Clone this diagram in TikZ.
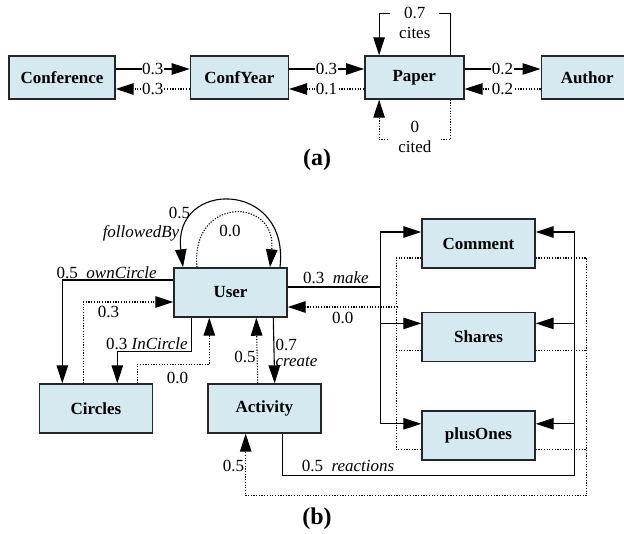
\documentclass[tikz,border=0pt]{standalone}
\usepackage{fontspec}
\setmainfont{Liberation Serif}
\usepackage{tikz}
\usetikzlibrary{arrows.meta,positioning,calc}
\definecolor{boxblue}{RGB}{212,234,240}
\tikzstyle{entity} = [rectangle, draw=black!85, line width=1.4pt, fill=boxblue, font=\fontsize{17}{20}\selectfont\bfseries, inner sep=0pt]
\tikzset{edge/.style = {
    draw, line width=1.1pt,
    -{Triangle[length=18pt, width=11.5pt]},
  },
  backedge/.style = {edge, dash pattern=on 1.2pt off 1.5pt},
  dotline/.style = {draw, line width=1.1pt, dash pattern=on 1.2pt off 1.5pt}
}

\begin{document}
\begin{tikzpicture}[x=1pt, y=-1pt]
  \useasboundingbox (0,0) rectangle (624,533);
  % vertices
  \tikzstyle{lbl} = [inner sep=1pt, font=\fontsize{17}{16}\selectfont]
  \tikzstyle{onlbl} = [lbl, fill=white, inner xsep=0.5pt]
  \tikzstyle{gplus} = [entity, minimum width=113pt, minimum height=49pt]
  \tikzstyle{sublabel} = [font=\fontsize{24}{28}\selectfont\bfseries]

  % (a) bibliographic graph
  \node[entity, minimum width=106pt, minimum height=43pt] (conf) at (62,77.5) {Conference};
  \node[entity, minimum width=98pt, minimum height=43pt, right=74pt of conf] (confyear) {ConfYear};
  \node[entity, minimum width=99pt, minimum height=43pt, right=75pt of confyear] (paper) {Paper};
  \node[entity, minimum width=92pt, minimum height=43pt, right=76pt of paper] (author) {Author};
  \node[sublabel] (capa) at (317,160) {(a)};

  \draw[edge] ($(conf.east)+(0,-8.5)$) -- node[onlbl]{0.3} ($(confyear.west)+(0,-8.5)$);
  \draw[backedge] ($(confyear.west)+(0,11.5)$) -- node[onlbl]{0.3} ($(conf.east)+(0,11.5)$);
  \draw[edge] ($(confyear.east)+(0,-8.5)$) -- node[onlbl]{0.3} ($(paper.west)+(0,-8.5)$);
  \draw[backedge] ($(paper.west)+(0,11.5)$) -- node[onlbl]{0.1} ($(confyear.east)+(0,11.5)$);
  \draw[edge] ($(paper.east)+(0,-8.5)$) -- node[onlbl]{0.2} ($(author.west)+(0,-8.5)$);
  \draw[backedge] ($(author.west)+(0,11.5)$) -- node[onlbl]{0.2} ($(paper.east)+(0,11.5)$);

  \draw[edge] ($(paper.north east)+(-14,0)$) |- ($(paper.north)+(0,-42)$) -| ($(paper.north west)+(15,0)$);
  \node[onlbl, minimum width=49pt] (citesw) at ($(paper.north)+(0.5,-42)$) {0.7};
  \node[lbl] (citesn) at ($(paper.north)+(0.5,-22)$) {cites};
  \draw[backedge] ($(paper.south east)+(-14,0)$) |- ($(paper.south)+(0,40)$) -| ($(paper.south west)+(15,0)$);
  \node[lbl] (citedw) at ($(paper.south)+(0.5,27)$) {0};
  \node[onlbl, inner ysep=3pt, minimum width=52pt] (citedn) at ($(paper.south)+(0.5,47)$) {cited};

  % (b) social graph
  \node[gplus] (user) at (230.5,292.5) {User};
  \node[gplus] (circles) at (96,408.5) {Circles};
  \node[gplus, right=54pt of circles] (activity) {Activity};
  \node[gplus] (comment) at (478.5,243.5) {Comment};
  \node[gplus, below=43pt of comment] (shares) {Shares};
  \node[gplus, below=48pt of shares] (plusones) {plusOnes};
  \node[sublabel] (capb) at (317,519) {(b)};

  % followedBy loop
  \draw[edge] ($(user.north)+(49.5,0)$) .. controls +(10,-88) and +(-11,-88) .. ($(user.north)+(-47.5,0)$);
  \draw[backedge] ($(user.north)+(-33.5,0)$) .. controls +(-7,-71) and +(7,-71) .. ($(user.north)+(39.5,0)$);
  \node[lbl] (fbw) at (179.5,213) {0.5};
  \node[lbl] (fbn) at (141,233) {\textit{followedBy}};
  \node[lbl] (fbback) at (230,231) {0.0};

  % circles
  \draw[edge] ($(user.west)+(0,-12.5)$) -| node[lbl, pos=0.3, above]{0.5\ \ \textit{ownCircle}} ($(circles.north west)+(23.5,0)$);
  \draw[backedge] ($(circles.north west)+(44.5,0)$) |- node[lbl, pos=0.64, below=3pt]{0.3} ($(user.west)+(0,9.5)$);
  \draw[edge] ($(user.south west)+(18,0)$) -- ++(0,34) -| node[lbl, pos=0.3, above]{0.3 \textit{InCircle}} ($(circles.north west)+(78.5,0)$);
  \draw[backedge] ($(circles.north west)+(98.5,0)$) -- ++(0,-19) -| node[lbl, pos=0.28, below=6pt]{0.0} ($(user.south west)+(36,0)$);

  % activity
  \draw[backedge] ($(activity.north west)+(50.5,0)$) -- node[lbl, pos=0.4, left]{0.5} ($(user.south west)+(83,0)$);
  \draw[edge] ($(user.south west)+(100,0)$) -- node[lbl, pos=0.54, right, align=left]{0.7\\\textit{create}} ($(activity.north west)+(67.5,0)$);

  % make
  \draw[edge] ($(user.east)+(0,-5.5)$) -| node[lbl, pos=0.26, above=2pt]{0.3\ \ \textit{make}} ($(comment.west)+(-41,-11.5)$) -- ($(comment.west)+(0,-11.5)$);
  \draw[edge] ($(user.east)+(0,-5.5)$) -| ($(shares.west)+(-41,-13.5)$) -- ($(shares.west)+(0,-13.5)$);
  \draw[edge] ($(user.east)+(0,-5.5)$) -| ($(plusones.west)+(-41,-11.5)$) -- ($(plusones.west)+(0,-11.5)$);

  \coordinate (fb) at ($(user.east)+(110,14.5)$);
  \draw[dotline] ($(comment.west)+(0,14.5)$) -| ($(plusones.west)+(-25,14.5)$) -- ($(plusones.west)+(0,14.5)$);
  \draw[dotline] ($(shares.west)+(0,13.5)$) -- ++(-25,0);
  \draw[backedge] (fb) -- node[lbl, below=4pt]{0.0} ($(user.east)+(0,14.5)$);

  % reactions
  \draw[edge] ($(activity.south west)+(75.5,0)$) -- ++(0,42) -| node[lbl, pos=0.112, above=2pt]{0.5\ \ \textit{reactions}} ($(comment.east)+(39,-11.5)$) -- ($(comment.east)+(0,-11.5)$);
  \draw[edge] ($(activity.south west)+(75.5,0)$) -- ++(0,42) -| ($(shares.east)+(39,-13.5)$) -- ($(shares.east)+(0,-13.5)$);
  \draw[edge] ($(activity.south west)+(75.5,0)$) -- ++(0,42) -| ($(plusones.east)+(39,-11.5)$) -- ($(plusones.east)+(0,-11.5)$);

  \draw[backedge] ($(comment.east)+(0,14.5)$) -| ($(plusones.east)+(51,60.5)$) -| node[lbl, pos=0.74, left]{0.5} ($(activity.south west)+(38.5,0)$);
  \draw[dotline] ($(shares.east)+(0,13.5)$) -- ++(51,0);
  \draw[dotline] ($(plusones.east)+(0,14.5)$) -- ++(51,0);
\end{tikzpicture}
\end{document}
